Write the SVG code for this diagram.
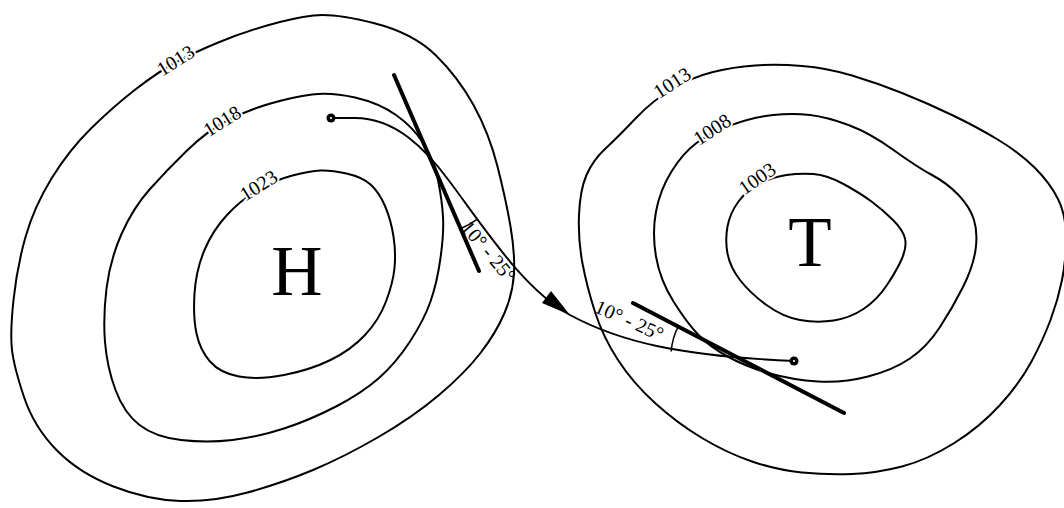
<svg xmlns="http://www.w3.org/2000/svg" width="1064" height="508" viewBox="0 0 1064 508">
<style>
.c{fill:none;stroke:#000;stroke-width:2}
.tan{fill:none;stroke:#000;stroke-width:4;stroke-linecap:round}
.tr{fill:none;stroke:#000;stroke-width:1.9}
.arc{fill:none;stroke:#000;stroke-width:1.5}
.lbl{font-family:"Liberation Serif","Times New Roman",serif;font-size:20px;fill:#000;stroke:#fff;stroke-width:4;paint-order:stroke;text-anchor:middle}
.ang{font-family:"Liberation Serif","Times New Roman",serif;font-size:20px;fill:#000;text-anchor:middle}
.big{font-family:"Liberation Serif","Times New Roman",serif;font-size:71px;fill:#000;text-anchor:middle}
.dot{fill:#000}
.hole{fill:#fff}
</style>
<rect width="1064" height="508" fill="#fff"/>
<g id="high">
<path id="iso-1013-high" class="c" d="M313.5,15.5 Q334,13 373.5,23 Q413,33 435.5,55 Q458,77 473.5,105 Q489,133 497.5,166.5 Q506,200 510.5,226.5 Q515,253 514,273 Q513,293 504.5,313 Q496,333 480.5,353 Q465,373 439,395 Q413,417 378.5,437 Q344,457 313,470 Q282,483 247.5,492.5 Q213,502 180.5,501 Q148,500 113.5,486.5 Q79,473 56.5,450 Q34,427 24,397 Q14,367 12,350 Q10,333 13.5,300 Q17,267 25.5,237 Q34,207 51.5,178.5 Q69,150 91.5,128 Q114,106 136,89 Q158,72 175.5,62.5 Q193,53 217,43 Q241,33 267,25.5 Q293,18 313.5,15.5 Z"/>
<path id="iso-1018" class="c" d="M312,94.5 Q331,92 355,97.5 Q379,103 396,115 Q413,127 423.5,143.5 Q434,160 438,180 Q442,200 443,216.5 Q444,233 440.5,258 Q437,283 430.5,301.5 Q424,320 410,341.5 Q396,363 379,378 Q362,393 336,406.5 Q310,420 284,428.5 Q258,437 232.5,440 Q207,443 181,440 Q155,437 139.5,425 Q124,413 115.5,390 Q107,367 105,342 Q103,317 106.5,288.5 Q110,260 121.5,234 Q133,208 150,189 Q167,170 187,150.5 Q207,131 227.5,120.5 Q248,110 270.5,103.5 Q293,97 312,94.5 Z"/>
<path id="iso-1023" class="c" d="M320.5,170.5 Q331,170 346.5,173.5 Q362,177 370.5,184.5 Q379,192 385,206 Q391,220 393.5,236.5 Q396,253 394.5,268 Q393,283 386,301.5 Q379,320 365,335 Q351,350 330.5,360 Q310,370 284,375 Q258,380 239,376.5 Q220,373 210,361.5 Q200,350 196.5,333.5 Q193,317 194.5,293.5 Q196,270 204.5,250 Q213,230 227,215 Q241,200 258,190 Q275,180 292.5,175.5 Q310,171 320.5,170.5 Z"/>
<text class="lbl" transform="translate(176,61) rotate(-32)" y="6">1013</text>
<text class="lbl" transform="translate(222.5,121.7) rotate(-32)" y="6">1018</text>
<text class="lbl" transform="translate(259,186) rotate(-32)" y="6">1023</text>
<text class="big" x="297" y="295">H</text>
</g>
<g id="low">
<path id="iso-1013-low" class="c" d="M755,65.5 Q777,64 802,66 Q827,68 852,75.5 Q877,83 902,93 Q927,103 952,115 Q977,127 998.5,140 Q1020,153 1035,168 Q1050,183 1058,199 Q1066,215 1066,237.5 Q1066,260 1062,280 Q1058,300 1050.5,320 Q1043,340 1031.5,361.5 Q1020,383 1000,405 Q980,427 953.5,443.5 Q927,460 902,466.5 Q877,473 852,474 Q827,475 802,472.5 Q777,470 752,461.5 Q727,453 702,438 Q677,423 655,403 Q633,383 618,360 Q603,337 595,312 Q587,287 582.5,263.5 Q578,240 579,215 Q580,190 586.5,175 Q593,160 605.5,148.5 Q618,137 635.5,118.5 Q653,100 673,88.5 Q693,77 713,72 Q733,67 755,65.5 Z"/>
<path id="iso-1008" class="c" d="M773,115 Q793,113 810,115 Q827,117 848.5,125 Q870,133 893.5,150 Q917,167 932,175 Q947,183 958.5,195 Q970,207 974,220 Q978,233 975.5,250 Q973,267 963,287 Q953,307 940,327 Q927,347 910,358.5 Q893,370 868,376.5 Q843,383 818,381.5 Q793,380 770,373.5 Q747,367 728.5,357 Q710,347 698.5,335 Q687,323 673.5,301.5 Q660,280 656,256.5 Q652,233 656,211.5 Q660,190 671.5,171.5 Q683,153 696.5,143 Q710,133 731.5,125 Q753,117 773,115 Z"/>
<path id="iso-1003" class="c" d="M786.5,175 Q800,173 813.5,174 Q827,175 843.5,184 Q860,193 871.5,201.5 Q883,210 893,220 Q903,230 905,238.5 Q907,247 902,258.5 Q897,270 887,285 Q877,300 863.5,309 Q850,318 833.5,320.5 Q817,323 800,320 Q783,317 766.5,305 Q750,293 740,280 Q730,267 727.5,253.5 Q725,240 727.5,226.5 Q730,213 738.5,201.5 Q747,190 760,183.5 Q773,177 786.5,175 Z"/>
<text class="lbl" transform="translate(672.5,83.3) rotate(-33)" y="6">1013</text>
<text class="lbl" transform="translate(712.5,130) rotate(-33)" y="6">1008</text>
<text class="lbl" transform="translate(757.5,179) rotate(-35)" y="6">1003</text>
<text class="big" x="810" y="266">T</text>
</g>
<g id="connectors">
<path id="track" class="tr" d="M331,118 L355,118 C395,118 425,148 450,182 C490,236 525,290 570,315 C620,342 680,356 794,361"/>
<polygon points="570,315 551,291 542,303" fill="#000"/>
<line class="tan" x1="394" y1="75" x2="479" y2="271"/>
<line class="tan" x1="633" y1="303" x2="844" y2="413"/>
<path class="arc" d="M460,229 A84,84 0 0 0 476.7,219.7"/>
<path class="arc" d="M678.3,326.3 A64,64 0 0 0 671.2,351.5"/>
<text class="ang" transform="translate(488,252) rotate(50)" y="6">10° - 25°</text>
<text class="ang" transform="translate(629,321) rotate(24)" y="6">10° - 25°</text>
<circle class="dot" cx="331" cy="118" r="4.5"/>
<circle class="hole" cx="331" cy="118" r="1.1"/>
<circle class="dot" cx="794" cy="361" r="4.5"/>
<circle class="hole" cx="794" cy="361" r="1.1"/>
</g>
</svg>
